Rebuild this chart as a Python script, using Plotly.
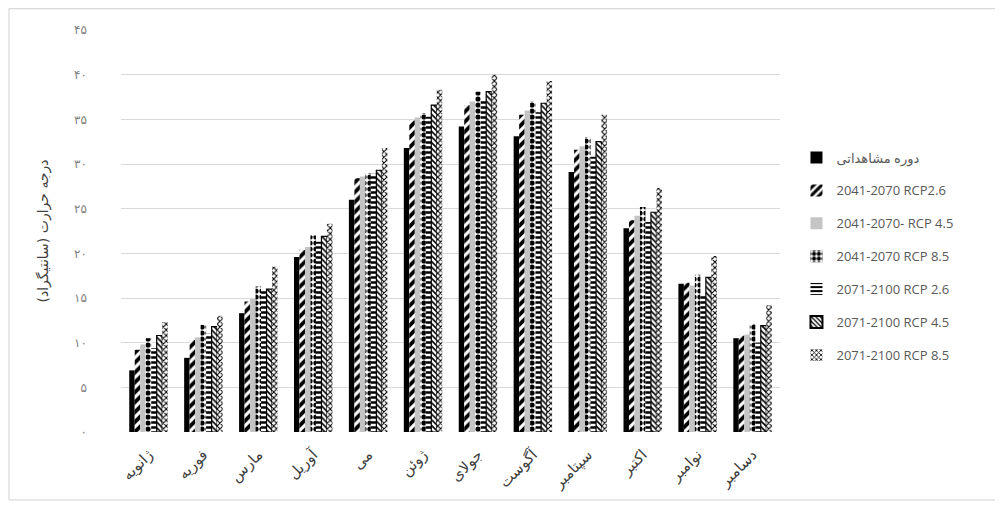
import plotly.graph_objects as go

months = ["ژانویه", "فوریه", "مارس", "آوریل", "می", "ژوئن", "جولای", "آگوست", "سپتامبر", "اکتبر", "نوامبر", "دسامبر"]

observed = [6.9, 8.3, 13.3, 19.6, 26.0, 31.8, 34.2, 33.1, 29.1, 22.8, 16.6, 10.5]
rcp26_2041 = [9.2, 10.3, 14.6, 20.4, 28.4, 34.9, 36.6, 35.5, 31.6, 23.7, 16.7, 10.8]
rcp45_2041 = [9.8, 10.6, 14.9, 20.7, 28.6, 35.2, 37.0, 36.0, 32.0, 24.2, 16.4, 10.9]
rcp85_2041 = [10.5, 12.0, 16.3, 22.0, 29.0, 35.7, 38.1, 37.0, 33.0, 25.2, 17.6, 12.1]
rcp26_2071 = [9.4, 11.0, 15.8, 21.3, 28.9, 35.3, 37.2, 35.8, 30.8, 23.5, 15.3, 10.0]
rcp45_2071 = [10.8, 11.8, 16.0, 21.9, 29.3, 36.6, 38.1, 36.8, 32.5, 24.6, 17.3, 11.9]
rcp85_2071 = [12.3, 13.0, 18.5, 23.3, 31.8, 38.3, 40.0, 39.3, 35.5, 27.3, 19.7, 14.2]

series_names = [
    "دوره مشاهداتی",
    "2041-2070 RCP2.6",
    "2041-2070- RCP 4.5",
    "2041-2070 RCP 8.5",
    "2071-2100 RCP 2.6",
    "2071-2100 RCP 4.5",
    "2071-2100 RCP 8.5",
]
series_values = [observed, rcp26_2041, rcp45_2041, rcp85_2041, rcp26_2071, rcp45_2071, rcp85_2071]

ytick_vals = [0, 5, 10, 15, 20, 25, 30, 35, 40, 45]
ytick_text = ["۰", "۵", "۱۰", "۱۵", "۲۰", "۲۵", "۳۰", "۳۵", "۴۰", "۴۵"]

styles = [
    dict(color="#000000", pattern=dict(shape="")),
    dict(color="white", pattern=dict(shape="/", fgcolor="#000000", bgcolor="white", size=7, solidity=0.55, fillmode="replace")),
    dict(color="#c4c4c4", pattern=dict(shape="")),
    dict(color="white", pattern=dict(shape=".", fgcolor="#000000", bgcolor="white", size=6, solidity=0.6, fillmode="replace")),
    dict(color="white", pattern=dict(shape="-", fgcolor="#000000", bgcolor="white", size=5, solidity=0.5, fillmode="replace")),
    dict(color="white", pattern=dict(shape="\\", fgcolor="#000000", bgcolor="white", size=4, solidity=0.4, fillmode="replace"),
         line=dict(color="#000000", width=1.2)),
    dict(color="white", pattern=dict(shape="x", fgcolor="#000000", bgcolor="white", size=4, solidity=0.45, fillmode="replace")),
]

fig = go.Figure()
for i, (name, vals, st) in enumerate(zip(series_names, series_values, styles)):
    marker = dict(color=st["color"], pattern=st["pattern"])
    marker["line"] = st.get("line", dict(width=0))
    fig.add_trace(go.Bar(x=months, y=vals, name=name, marker=marker, legendgroup=f"g{i}"))

fig.update_layout(
    width=1003, height=516,
    paper_bgcolor="white", plot_bgcolor="white",
    barmode="group", bargap=0.3, bargroupgap=0.0,
    margin=dict(l=113, r=231, t=22, b=92),
    font=dict(family="Open Sans, DejaVu Sans, sans-serif", color="#595959", size=13),
    showlegend=True,
    legend=dict(x=1.025, y=0.72, xanchor="left", yanchor="top",
                font=dict(size=13, color="#595959"), tracegroupgap=13,
                traceorder="grouped", itemsizing="constant", bgcolor="rgba(0,0,0,0)"),
    xaxis=dict(tickangle=-45, tickfont=dict(size=15, color="#404040", family="DejaVu Sans, sans-serif"),
               showline=False, ticks="", showgrid=False, ticklabelstandoff=10),
    yaxis=dict(range=[0, 45], tickvals=ytick_vals, ticktext=ytick_text,
               showgrid=True, gridcolor="#d9d9d9", gridwidth=1, zeroline=False,
               tickfont=dict(size=12, color="#7f7f7f", family="DejaVu Sans, sans-serif"),
               ticks="", ticklabelstandoff=33,
               title=dict(text="درجه حرارت (سانتیگراد)", standoff=22,
                          font=dict(size=14, color="#404040", family="DejaVu Sans, sans-serif"))),
    shapes=[dict(type="rect", xref="paper", yref="paper", x0=-0.17, x1=1.334, y0=-0.169, y1=1.053,
                 line=dict(color="#d0d0d0", width=1), fillcolor="rgba(0,0,0,0)", layer="below")],
)

fig.write_html("out.html")
